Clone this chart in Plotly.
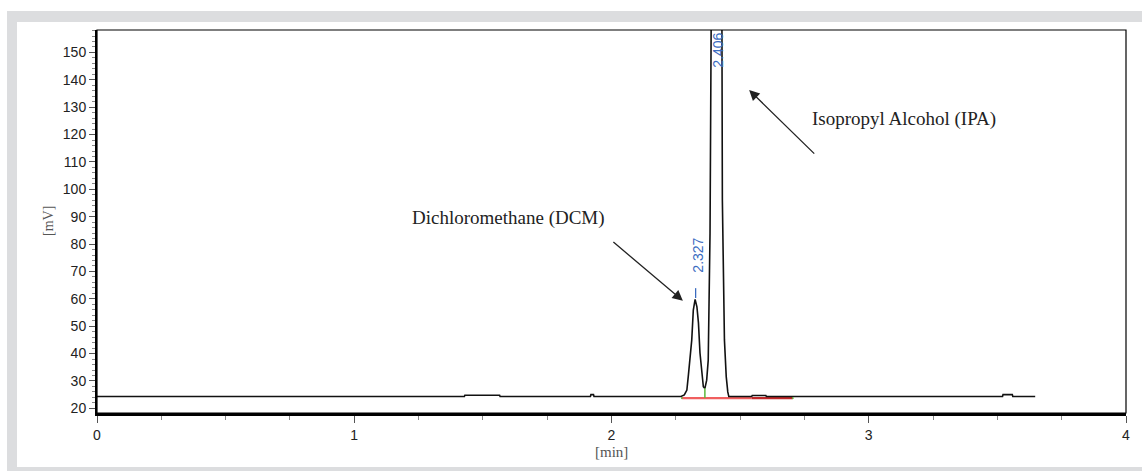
import plotly.graph_objects as go

# ---- data ----
time_min = [0.0, 1.428, 1.430, 1.565, 1.567, 1.918, 1.920, 1.930, 1.932, 2.270,
            2.283, 2.293, 2.299, 2.306, 2.312, 2.318, 2.325, 2.332, 2.338, 2.344,
            2.351, 2.357, 2.363, 2.370, 2.376, 2.380, 2.383, 2.388, 2.395, 2.406,
            2.418, 2.429, 2.431, 2.439, 2.446, 2.452, 2.456, 2.545, 2.547, 2.600,
            2.602, 3.520, 3.522, 3.558, 3.560, 3.647]
signal_mv = [24.3, 24.3, 24.8, 24.8, 24.3, 24.3, 25.0, 25.0, 24.3, 24.3,
             24.9, 26.7, 32.2, 38.8, 45.0, 55.9, 59.8, 57.1, 51.2, 40.2,
             32.9, 27.9, 27.3, 30.3, 37.6, 62.0, 84.0, 170.0, 450.0, 620.0,
             450.0, 170.0, 96.0, 45.0, 31.6, 26.0, 24.3, 24.3, 24.7, 24.7,
             24.3, 24.3, 25.0, 25.0, 24.3, 24.3]

peak_times = [2.327, 2.406]
peak_labels = ["2.327", "2.406"]
peak_label_y = [76.0, 151.0]
dcm_apex = 60.3

baseline_a_x = [2.273, 2.545]
baseline_b_x = [2.545, 2.705]
baseline_y = 23.75
valley_x = 2.363
valley_y = 27.3

compounds = ["Dichloromethane (DCM)", "Isopropyl Alcohol (IPA)"]
compound_text_xy = [(1.598, 89.6), (3.137, 125.7)]
arrow_tip = [(2.2775, 59.3), (2.535, 136.3)]
arrow_tail = [(2.0015, 81.2), (2.794, 112.5)]

x_ticks = [0, 1, 2, 3, 4]
y_ticks = list(range(20, 151, 10))

# ---- figure ----
fig = go.Figure()

# integration baseline (drawn first, beneath the signal)
fig.add_trace(go.Scatter(x=baseline_a_x, y=[baseline_y] * 2, mode="lines",
                         line=dict(color="#f05f5f", width=2.2), showlegend=False))
fig.add_trace(go.Scatter(x=baseline_b_x, y=[baseline_y] * 2, mode="lines",
                         line=dict(color="#c0282a", width=2.2), showlegend=False))

fig.add_trace(go.Scatter(x=time_min, y=signal_mv, mode="lines",
                         line=dict(color="#111111", width=1.6),
                         hoverinfo="skip", showlegend=False))

# drop line at valley and end markers
fig.add_trace(go.Scatter(x=[valley_x, valley_x], y=[baseline_y, valley_y], mode="lines",
                         line=dict(color="#5cb83c", width=1.5), showlegend=False))
fig.add_trace(go.Scatter(x=[baseline_a_x[0], baseline_a_x[0]], y=[baseline_y - 0.3, baseline_y + 0.3],
                         mode="lines", line=dict(color="#5cb83c", width=1.5), showlegend=False))
fig.add_trace(go.Scatter(x=[baseline_b_x[1], baseline_b_x[1]], y=[baseline_y - 0.3, baseline_y + 0.3],
                         mode="lines", line=dict(color="#5cb83c", width=1.5), showlegend=False))
# apex marker for DCM
fig.add_trace(go.Scatter(x=[peak_times[0], peak_times[0]], y=[dcm_apex, dcm_apex + 3.6], mode="lines",
                         line=dict(color="#3a6bbf", width=1.3), showlegend=False))

annotations = []
for t, lab, ly in zip(peak_times, peak_labels, peak_label_y):
    annotations.append(dict(x=t, y=ly, xref="x", yref="y", text=lab, textangle=-90,
                            showarrow=False, xshift=2, xanchor="center", yanchor="middle",
                            font=dict(family="Liberation Sans, Arial", size=14, color="#3a6bbf")))
for name, (tx, ty), (hx, hy), (ax, ay) in zip(compounds, compound_text_xy, arrow_tip, arrow_tail):
    annotations.append(dict(x=tx, y=ty, xref="x", yref="y", text=name, showarrow=False,
                            xanchor="center", yanchor="middle",
                            font=dict(family="Liberation Serif, Times New Roman", size=19, color="#222222")))
    annotations.append(dict(x=hx, y=hy, xref="x", yref="y", ax=ax, ay=ay, axref="x", ayref="y",
                            text="", showarrow=True, arrowhead=2, arrowsize=1.6, arrowwidth=1.3,
                            arrowcolor="#222222"))

# pixel helpers for paper placement
L, R, T, B = 97, 1126, 30, 413


def px_x(p):
    return (p - L) / (R - L)


def px_y(p):
    return (B - p) / (B - T)


annotations.append(dict(x=px_x(48), y=px_y(221), xref="paper", yref="paper", text="[mV]",
                        textangle=-90, showarrow=False, xanchor="center", yanchor="middle",
                        font=dict(family="Liberation Serif", size=14, color="#555555")))
annotations.append(dict(x=px_x(611), y=px_y(452), xref="paper", yref="paper", text="[min]",
                        showarrow=False, xanchor="center", yanchor="middle",
                        font=dict(family="Liberation Serif", size=15, color="#555555")))

gray = "#dcdddf"
shapes = [
    dict(type="rect", xref="paper", yref="paper", x0=px_x(7), x1=px_x(1150), y0=px_y(11), y1=px_y(22),
         fillcolor=gray, line=dict(width=0), layer="below"),
    dict(type="rect", xref="paper", yref="paper", x0=px_x(7), x1=px_x(17), y0=px_y(11), y1=px_y(480),
         fillcolor=gray, line=dict(width=0), layer="below"),
    dict(type="rect", xref="paper", yref="paper", x0=px_x(7), x1=px_x(1150), y0=px_y(467), y1=px_y(480),
         fillcolor=gray, line=dict(width=0), layer="below"),
    dict(type="rect", xref="paper", yref="paper", x0=0, x1=1, y0=0, y1=1,
         line=dict(color="#000000", width=1.2), layer="above"),
]

fig.update_layout(
    width=1142, height=471,
    margin=dict(l=L, r=1142 - R, t=T, b=471 - B),
    paper_bgcolor="white", plot_bgcolor="white",
    showlegend=False,
    annotations=annotations,
    shapes=shapes,
    xaxis=dict(range=[0, 4], tickvals=x_ticks, ticktext=[str(v) for v in x_ticks],
               ticks="outside", ticklen=7, tickwidth=1, tickcolor="#555555",
               minor=dict(dtick=0.25, ticks="outside", ticklen=4, tickcolor="#888888", tickwidth=1),
               showline=True, linecolor="#000000", linewidth=3,
               showgrid=False, zeroline=False,
               tickfont=dict(family="Liberation Sans, Arial", size=14, color="#222222")),
    yaxis=dict(range=[18.3, 158.2], tickvals=y_ticks, ticktext=[str(v) for v in y_ticks],
               ticks="outside", ticklen=6, tickwidth=1, tickcolor="#555555",
               minor=dict(dtick=2, ticks="outside", ticklen=3, tickcolor="#888888", tickwidth=1),
               showline=True, linecolor="#000000", linewidth=2,
               showgrid=False, zeroline=False,
               tickfont=dict(family="Liberation Sans, Arial", size=14, color="#222222")),
)

fig.write_html("out.html",
               post_script="document.documentElement.style.overflow='hidden';"
                           "document.body.style.overflow='hidden';document.body.style.margin='0';")
